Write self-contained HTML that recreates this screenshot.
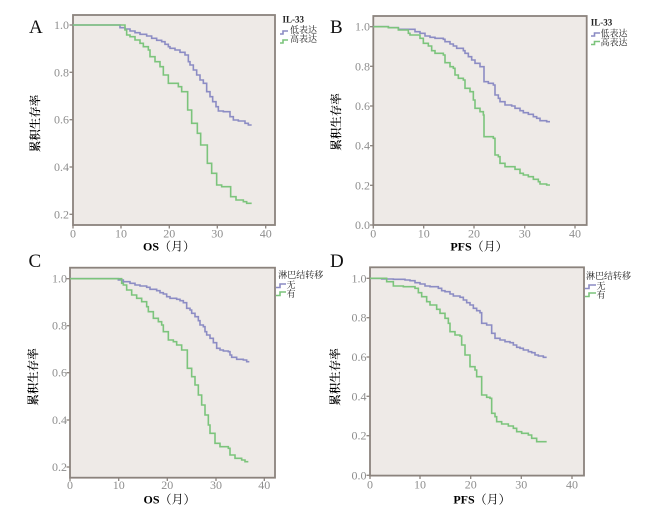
<!DOCTYPE html>
<html>
<head>
<meta charset="utf-8">
<style>
html,body{margin:0;padding:0;background:#fff;}
svg{display:block;}
.tk{font-family:"Liberation Serif","Noto Serif CJK SC",serif;font-size:12px;fill:#8e8e8e;}
.ax{font-family:"Liberation Serif","Noto Serif CJK SC",serif;font-size:12px;fill:#000;}
.yt{font-family:"Liberation Serif","Noto Serif CJK SC",serif;font-size:11.5px;fill:#000;font-weight:600;}
.lg{font-family:"Liberation Serif","Noto Serif CJK SC",serif;font-size:9px;fill:#222;}
.pl{font-family:"Liberation Serif",serif;font-size:19px;fill:#111;}
.box{fill:#eeeae7;stroke:#8b837d;stroke-width:1.8;}
.tick{stroke:#8b837d;stroke-width:1.3;}
.b{fill:none;stroke:#8c8cc4;stroke-width:1.6;}
.g{fill:none;stroke:#7cc47c;stroke-width:1.6;}
</style>
</head>
<body>
<svg width="650" height="513" viewBox="0 0 650 513" xmlns="http://www.w3.org/2000/svg">
<rect width="650" height="513" fill="#fff"/>

<!-- ================= Panel A ================= -->
<text class="pl" x="29" y="33">A</text>
<rect class="box" x="73" y="15" width="202" height="210"/>
<g class="tick">
<line x1="69.5" y1="25" x2="73" y2="25"/>
<line x1="69.5" y1="72.3" x2="73" y2="72.3"/>
<line x1="69.5" y1="119.7" x2="73" y2="119.7"/>
<line x1="69.5" y1="167" x2="73" y2="167"/>
<line x1="69.5" y1="214.3" x2="73" y2="214.3"/>
<line x1="73" y1="225" x2="73" y2="228.5"/>
<line x1="121" y1="225" x2="121" y2="228.5"/>
<line x1="169.3" y1="225" x2="169.3" y2="228.5"/>
<line x1="217.3" y1="225" x2="217.3" y2="228.5"/>
<line x1="265.7" y1="225" x2="265.7" y2="228.5"/>
</g>
<g class="tk" text-anchor="end">
<text x="69" y="29">1.0</text>
<text x="69" y="76.3">0.8</text>
<text x="69" y="123.7">0.6</text>
<text x="69" y="171">0.4</text>
<text x="69" y="218.3">0.2</text>
</g>
<g class="tk" text-anchor="middle">
<text x="73" y="237.5">0</text>
<text x="121" y="237.5">10</text>
<text x="169.3" y="237.5">20</text>
<text x="217.3" y="237.5">30</text>
<text x="265.7" y="237.5">40</text>
</g>
<text class="ax" x="169" y="250.5" text-anchor="middle"><tspan font-weight="bold">OS</tspan>（月）</text>
<text class="yt" transform="translate(36,123.5) rotate(-90)" text-anchor="middle" dominant-baseline="central">累积生存率</text>
<g transform="translate(110,15) scale(0.333333)">
<path class="b" vector-effect="non-scaling-stroke" d="M-112 30 H30 V38 H45 V42 H60 V48 H75 V53 H90 V58 H110 V63 H125 V70 H140 V76 H155 V80 H165 V88 H175 V95 H180 V100 H195 V105 H210 V112 H225 V120 H235 V140 H240 V150 H250 V165 H260 V180 H270 V195 H280 V205 H290 V230 H300 V245 H308 V260 H318 V275 H325 V288 H340 V290 H360 V305 H370 V315 H385 V318 H405 V325 H415 V330 H425"/>
<path class="g" vector-effect="non-scaling-stroke" d="M-112 30 H45 V45 H50 V60 H60 V65 H75 V75 H90 V85 H100 V95 H115 V105 H120 V125 H135 V140 H150 V155 H160 V180 H175 V205 H205 V215 H215 V230 H233 V285 H245 V325 H262 V355 H272 V390 H292 V445 H305 V475 H320 V510 H335 V515 H362 V545 H378 V555 H400 V560 H410 V565 H425"/>
</g>
<text class="lg" x="282.5" y="22.5" font-weight="bold" font-size="8.5">IL-33</text>
<path class="b" d="M280 34 H283 V31 H288"/>
<text class="lg" x="290" y="33">低表达</text>
<path class="g" d="M280 43 H283 V40 H288"/>
<text class="lg" x="290" y="42">高表达</text>

<!-- ================= Panel B ================= -->
<text class="pl" x="330" y="33">B</text>
<rect class="box" x="373.3" y="16" width="213.4" height="209"/>
<g class="tick">
<line x1="370" y1="26.7" x2="373.3" y2="26.7"/>
<line x1="370" y1="66.3" x2="373.3" y2="66.3"/>
<line x1="370" y1="106" x2="373.3" y2="106"/>
<line x1="370" y1="145.7" x2="373.3" y2="145.7"/>
<line x1="370" y1="185.3" x2="373.3" y2="185.3"/>
<line x1="370" y1="225" x2="373.3" y2="225"/>
<line x1="373.3" y1="225" x2="373.3" y2="228.5"/>
<line x1="423.7" y1="225" x2="423.7" y2="228.5"/>
<line x1="474" y1="225" x2="474" y2="228.5"/>
<line x1="524.7" y1="225" x2="524.7" y2="228.5"/>
<line x1="575" y1="225" x2="575" y2="228.5"/>
</g>
<g class="tk" text-anchor="end">
<text x="370" y="30.7">1.0</text>
<text x="370" y="70.3">0.8</text>
<text x="370" y="110">0.6</text>
<text x="370" y="149.7">0.4</text>
<text x="370" y="189.3">0.2</text>
<text x="370" y="229">0.0</text>
</g>
<g class="tk" text-anchor="middle">
<text x="373.3" y="237.5">0</text>
<text x="423.7" y="237.5">10</text>
<text x="474" y="237.5">20</text>
<text x="524.7" y="237.5">30</text>
<text x="575" y="237.5">40</text>
</g>
<text class="ax" x="479" y="250.5" text-anchor="middle"><tspan font-weight="bold">PFS</tspan>（月）</text>
<text class="yt" transform="translate(337,122) rotate(-90)" text-anchor="middle" dominant-baseline="central">累积生存率</text>
<g transform="translate(410,20) scale(0.333333)">
<path class="b" vector-effect="non-scaling-stroke" d="M-110 20 H-65 V23 H-35 V28 H15 V35 H30 V40 H45 V48 H60 V52 H75 V55 H100 V58 H105 V65 H120 V72 H130 V78 H140 V85 H160 V92 H165 V100 H175 V110 H185 V120 H195 V130 H210 V140 H222 V185 H235 V190 H250 V195 H255 V225 H265 V235 H270 V245 H285 V255 H305 V258 H315 V265 H330 V272 H340 V278 H355 V283 H370 V290 H380 V295 H390 V302 H410 V305 H420"/>
<path class="g" vector-effect="non-scaling-stroke" d="M-110 20 H-65 V23 H-35 V30 H-5 V40 H0 V45 H30 V55 H40 V70 H55 V78 H65 V92 H75 V100 H100 V105 H105 V128 H120 V140 H130 V145 H135 V165 H145 V175 H160 V180 H165 V205 H180 V215 H190 V240 H195 V265 H210 V275 H220 V285 H222 V350 H250 V355 H255 V405 H265 V410 H270 V430 H285 V440 H315 V448 H330 V460 H340 V465 H355 V470 H370 V478 H385 V485 H390 V492 H410 V495 H420"/>
</g>
<text class="lg" x="590.7" y="25.5" font-weight="bold" font-size="8.5">IL-33</text>
<path class="b" d="M591 36 H594.5 V33 H600"/>
<text class="lg" x="600.5" y="36.5">低表达</text>
<path class="g" d="M591 44.5 H594.5 V41.5 H600"/>
<text class="lg" x="600.5" y="45.5">高表达</text>

<!-- ================= Panel C ================= -->
<text class="pl" x="28.5" y="267">C</text>
<rect class="box" x="70" y="267.7" width="205" height="210"/>
<g class="tick">
<line x1="66.5" y1="278.7" x2="70" y2="278.7"/>
<line x1="66.5" y1="325.7" x2="70" y2="325.7"/>
<line x1="66.5" y1="372.7" x2="70" y2="372.7"/>
<line x1="66.5" y1="420" x2="70" y2="420"/>
<line x1="66.5" y1="467" x2="70" y2="467"/>
<line x1="70" y1="477.7" x2="70" y2="481"/>
<line x1="118.7" y1="477.7" x2="118.7" y2="481"/>
<line x1="167.3" y1="477.7" x2="167.3" y2="481"/>
<line x1="216" y1="477.7" x2="216" y2="481"/>
<line x1="264.3" y1="477.7" x2="264.3" y2="481"/>
</g>
<g class="tk" text-anchor="end">
<text x="67" y="282.7">1.0</text>
<text x="67" y="329.7">0.8</text>
<text x="67" y="376.7">0.6</text>
<text x="67" y="424">0.4</text>
<text x="67" y="471">0.2</text>
</g>
<g class="tk" text-anchor="middle">
<text x="70" y="489">0</text>
<text x="118.7" y="489">10</text>
<text x="167.3" y="489">20</text>
<text x="216" y="489">30</text>
<text x="264.3" y="489">40</text>
</g>
<text class="ax" x="169.5" y="503.5" text-anchor="middle"><tspan font-weight="bold">OS</tspan>（月）</text>
<text class="yt" transform="translate(34,377) rotate(-90)" text-anchor="middle" dominant-baseline="central">累积生存率</text>
<g transform="translate(110,270) scale(0.333333)">
<path class="b" vector-effect="non-scaling-stroke" d="M-120 26 H25 V30 H40 V35 H60 V40 H75 V45 H90 V48 H110 V52 H120 V58 H140 V62 H150 V68 H160 V72 H170 V80 H180 V85 H200 V88 H210 V92 H220 V98 H230 V115 H240 V120 H245 V130 H255 V140 H265 V152 H270 V165 H280 V170 H285 V185 H290 V195 H300 V205 H310 V218 H320 V235 H330 V240 H340 V243 H355 V245 H360 V255 H365 V262 H380 V268 H400 V270 H410 V275 H418"/>
<path class="g" vector-effect="non-scaling-stroke" d="M-120 26 H35 V40 H40 V45 H50 V60 H65 V75 H80 V85 H95 V95 H110 V110 H115 V125 H130 V145 H145 V155 H155 V165 H160 V185 H175 V210 H190 V215 H200 V225 H215 V240 H232 V295 H245 V320 H255 V345 H265 V375 H275 V405 H285 V435 H295 V465 H300 V490 H315 V520 H330 V530 H355 V535 H360 V555 H375 V565 H395 V570 H405 V575 H415"/>
</g>
<text class="lg" x="278.3" y="278">淋巴结转移</text>
<path class="b" d="M276 287.5 H280 V284 H286"/>
<text class="lg" x="286.5" y="288">无</text>
<path class="g" d="M276 295.5 H280 V292 H286"/>
<text class="lg" x="286.5" y="297">有</text>

<!-- ================= Panel D ================= -->
<text class="pl" x="330" y="267">D</text>
<rect class="box" x="370" y="267.3" width="214" height="208.3"/>
<g class="tick">
<line x1="366.5" y1="278.3" x2="370" y2="278.3"/>
<line x1="366.5" y1="317.7" x2="370" y2="317.7"/>
<line x1="366.5" y1="357" x2="370" y2="357"/>
<line x1="366.5" y1="396.3" x2="370" y2="396.3"/>
<line x1="366.5" y1="435.7" x2="370" y2="435.7"/>
<line x1="366.5" y1="475.3" x2="370" y2="475.3"/>
<line x1="370" y1="475.6" x2="370" y2="479"/>
<line x1="420" y1="475.6" x2="420" y2="479"/>
<line x1="470.7" y1="475.6" x2="470.7" y2="479"/>
<line x1="521.3" y1="475.6" x2="521.3" y2="479"/>
<line x1="572" y1="475.6" x2="572" y2="479"/>
</g>
<g class="tk" text-anchor="end">
<text x="366.5" y="282.3">1.0</text>
<text x="366.5" y="321.7">0.8</text>
<text x="366.5" y="361">0.6</text>
<text x="366.5" y="400.3">0.4</text>
<text x="366.5" y="439.7">0.2</text>
<text x="366.5" y="479.3">0.0</text>
</g>
<g class="tk" text-anchor="middle">
<text x="370" y="488.5">0</text>
<text x="420" y="488.5">10</text>
<text x="470.7" y="488.5">20</text>
<text x="521.3" y="488.5">30</text>
<text x="572" y="488.5">40</text>
</g>
<text class="ax" x="482" y="503.5" text-anchor="middle"><tspan font-weight="bold">PFS</tspan>（月）</text>
<text class="yt" transform="translate(336,377) rotate(-90)" text-anchor="middle" dominant-baseline="central">累积生存率</text>
<g transform="translate(405,270) scale(0.333333)">
<path class="b" vector-effect="non-scaling-stroke" d="M-105 25 H-70 V27 H-35 V28 H0 V30 H15 V32 H30 V38 H45 V42 H60 V48 H75 V50 H100 V55 H110 V62 H120 V65 H135 V72 H145 V78 H165 V82 H175 V90 H185 V98 H195 V105 H205 V115 H215 V122 H225 V128 H230 V160 H245 V165 H260 V190 H270 V205 H285 V210 H300 V215 H315 V218 H325 V225 H335 V232 H345 V235 H355 V240 H370 V245 H380 V248 H390 V255 H400 V258 H415 V262 H425"/>
<path class="g" vector-effect="non-scaling-stroke" d="M-105 25 H-55 V35 H-35 V48 H-5 V50 H30 V55 H40 V68 H50 V80 H65 V95 H75 V105 H95 V118 H105 V130 H120 V145 H130 V160 H135 V185 H150 V195 H165 V198 H170 V225 H180 V255 H195 V290 H210 V300 H215 V320 H230 V375 H245 V382 H255 V385 H260 V430 H270 V440 H275 V455 H290 V462 H310 V468 H325 V475 H335 V485 H350 V490 H370 V495 H380 V505 H395 V515 H425"/>
</g>
<text class="lg" x="586" y="279">淋巴结转移</text>
<path class="b" d="M585 288.5 H589 V285 H596"/>
<text class="lg" x="596.5" y="289">无</text>
<path class="g" d="M585 296.5 H589 V293 H596"/>
<text class="lg" x="596.5" y="298">有</text>
</svg>
</body>
</html>
